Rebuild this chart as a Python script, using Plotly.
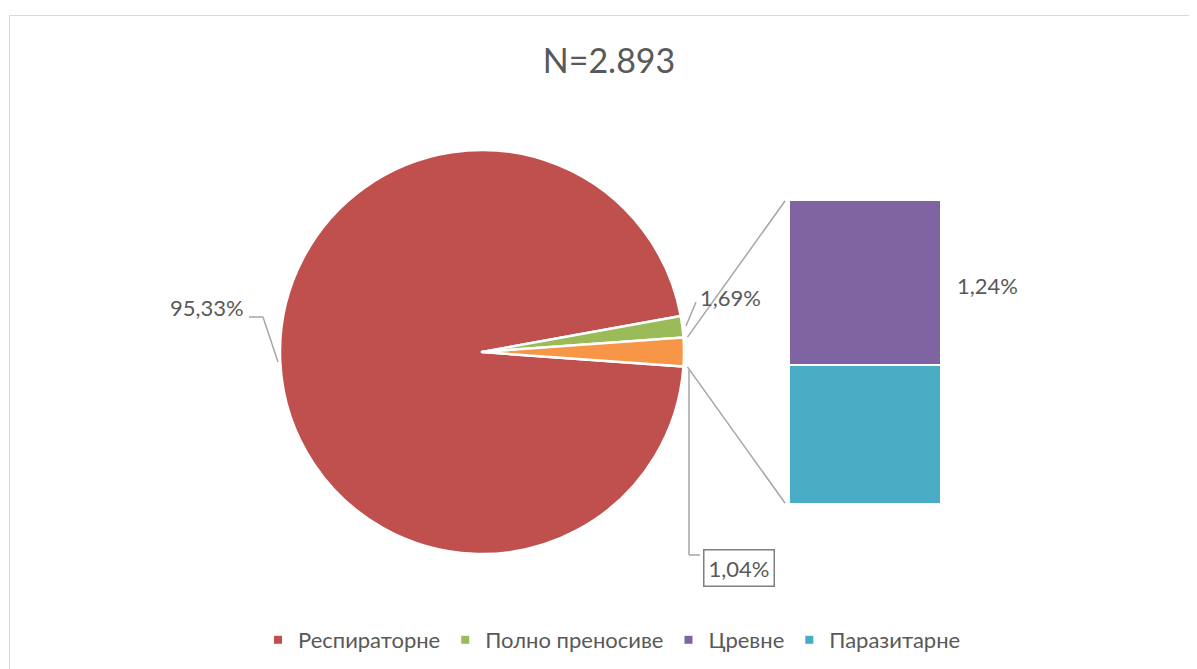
import math
import plotly.graph_objects as go

# page has an 8px body margin; figure drawn at (8, 8)
OFF = 8
W, H = 1197 - OFF, 669 - OFF

categories = ["Респираторне", "Полно преносиве", "Цревне", "Паразитарне"]
values = [95.33, 1.69, 1.24, 1.04]
label_text = ["95,33%", "1,69%", "1,24%", "1,04%"]
title_text = "N=2.893"

colors = ["#C0504D", "#9BBB59", "#8064A2", "#4BACC6"]
other_color = "#F79646"
txt_color = "#595959"
line_color = "#A6A6A6"
FONT = "Lato"

other = values[2] + values[3]
pie_values = [values[0], values[1], other]
pie_total = sum(pie_values)
other_deg = other / pie_total * 360.0

# geometry in page pixels
CX, CY, R = 482, 352, 202
BX0, BX1, BY0, BY1 = 789, 941, 200, 504


def px2paper(px, py):
    return (px - OFF) / W, 1 - (py - OFF) / H


def pie_pt(angle_deg, rr):
    a = math.radians(angle_deg)
    return CX + rr * math.sin(a), CY - rr * math.cos(a)


fig = go.Figure()

px0, py0 = px2paper(CX - R, CY + R)
px1, py1 = px2paper(CX + R, CY - R)
fig.add_trace(go.Pie(
    values=pie_values,
    labels=[categories[0], categories[1], "other"],
    marker=dict(colors=[colors[0], colors[1], other_color],
                line=dict(color="white", width=2.5)),
    sort=False, direction="clockwise", rotation=90 + other_deg / 2,
    textinfo="none", hoverinfo="label+percent", showlegend=False,
    domain=dict(x=[px0, px1], y=[py0, py1]),
))

# stacked bar (secondary breakdown)
for i in (3, 2):
    fig.add_trace(go.Bar(
        x=[0], y=[values[i]], width=1, name=categories[i],
        marker=dict(color=colors[i], line=dict(color="white", width=2)),
        showlegend=False, xaxis="x", yaxis="y",
    ))

# legend proxies
for c, col in zip(categories, colors):
    fig.add_trace(go.Scatter(
        x=[None], y=[None], mode="markers", name=c,
        marker=dict(symbol="square", size=8, color=col),
        xaxis="x", yaxis="y",
    ))

shapes = []
bx0, by0 = px2paper(9.5, 15.5)
shapes.append(dict(type="rect", xref="paper", yref="paper",
                   x0=bx0, x1=1.05, y0=-0.05, y1=by0,
                   line=dict(color="#D9D9D9", width=1)))


def seg(a, b):
    x0, y0 = px2paper(*a)
    x1, y1 = px2paper(*b)
    shapes.append(dict(type="line", xref="paper", yref="paper",
                       x0=x0, y0=y0, x1=x1, y1=y1,
                       line=dict(color=line_color, width=1.5)))


# connector lines from "other" slice to the bar
p1 = pie_pt(90 - other_deg / 2, R + 4)
p2 = pie_pt(90 + other_deg / 2, R + 4)
seg(p1, (BX0 - 4, BY0 + 1))
seg(p2, (BX0 - 4, BY1 - 1))

# label leader lines
seg((249, 317), (263, 317))
seg((263, 317), (278, 362))
seg((696, 302), (686, 326))
seg((689, 370), (689, 555))
seg((689, 555), (700, 555))


def ann(text, px, py, xanchor, **kw):
    x, y = px2paper(px, py)
    d = dict(text=text, x=x, y=y, xref="paper", yref="paper",
             xanchor=xanchor, yanchor="middle", showarrow=False,
             font=dict(family=FONT, size=22, color=txt_color))
    d.update(kw)
    return d


annotations = [
    ann(label_text[0], 246, 307, "right"),
    ann(label_text[1], 698, 297, "left"),
    ann(label_text[2], 955, 285, "left"),
    ann(label_text[3], 739, 568, "center", bordercolor="#7F7F7F",
        borderwidth=1.5, borderpad=4, bgcolor="white"),
]

tx, ty = px2paper(609, 61)
lx, ly = px2paper(612, 640)
ax0, ay0 = px2paper(BX0, BY1)
ax1, ay1 = px2paper(BX1, BY0)

fig.update_layout(
    width=W, height=H,
    margin=dict(l=0, r=0, t=0, b=0),
    paper_bgcolor="white", plot_bgcolor="rgba(0,0,0,0)",
    font=dict(family=FONT, color=txt_color),
    title=dict(text=title_text, x=tx, xanchor="center", y=ty, yanchor="middle",
               font=dict(family=FONT, size=34, color=txt_color)),
    barmode="stack",
    xaxis=dict(domain=[ax0, ax1], range=[-0.5, 0.5], visible=False,
               fixedrange=True),
    yaxis=dict(domain=[ay0, ay1], range=[0, other], visible=False,
               fixedrange=True),
    legend=dict(orientation="h", x=lx, xanchor="center", y=ly,
                yanchor="middle", font=dict(family=FONT, size=22, color=txt_color),
                itemwidth=30, traceorder="normal"),
    shapes=shapes,
    annotations=annotations,
)

fig.write_html("out.html")
